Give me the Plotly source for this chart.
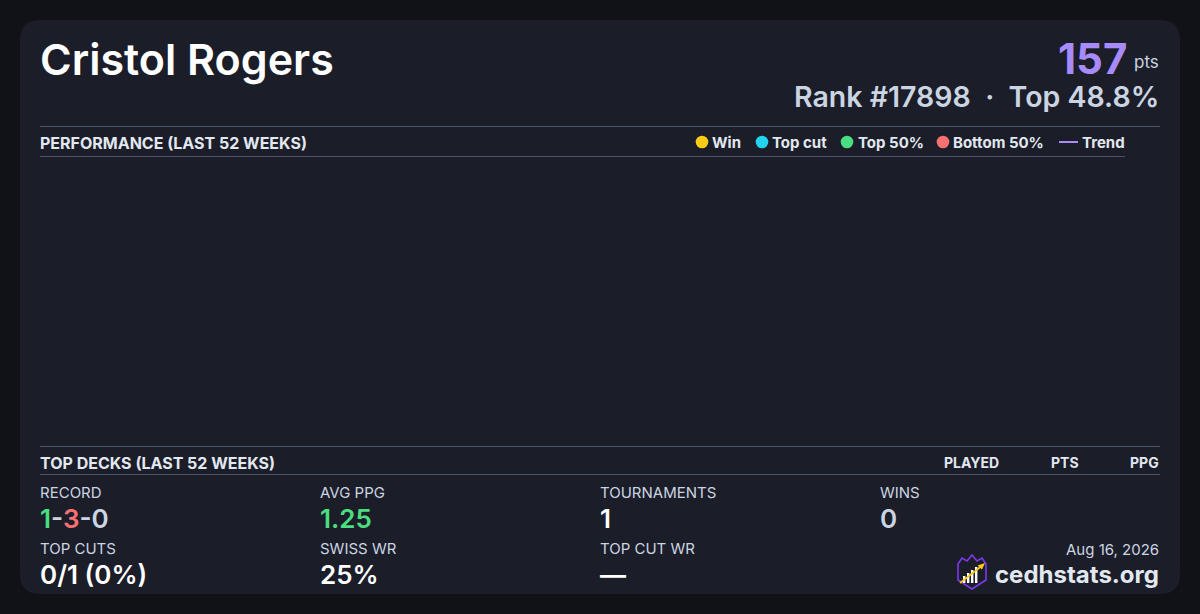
import plotly.graph_objects as go

# header
player_name = "Cristol Rogers"
total_points = 157
rank = 17898
top_percent = 48.8
card_date = "Aug 16, 2026"
site_name = "cedhstats.org"

# performance chart (last 52 weeks) - nothing recorded in the window
legend_labels = ["Win", "Top cut", "Top 50%", "Bottom 50%", "Trend"]
legend_colors = ["#facc15", "#22d3ee", "#4ade80", "#f87171", "#a78bfa"]
week_dates = []
week_points = []
week_result = []
trend_points = []

# top decks table header
deck_columns = ["PLAYED", "PTS", "PPG"]

# stats
record_w, record_l, record_d = 1, 3, 0
avg_ppg = 1.25
tournaments = 1
wins = 0
top_cuts, top_cut_chances = 0, 1
swiss_wr = 25
top_cut_wr = None

BG = "#111217"
CARD = "#1b1d29"
RULE = "#4a5669"
LIGHT = "#cbd5e1"
HEAD = "#e2e8f0"
FONT = "Inter"

fig = go.Figure()

# performance traces (empty), on their own axes inside the chart region
result_order = legend_labels[:4]
for lab, col in zip(result_order, legend_colors[:4]):
    xs = [d for d, r in zip(week_dates, week_result) if r == lab]
    ys = [p for p, r in zip(week_points, week_result) if r == lab]
    fig.add_trace(go.Scatter(x=xs, y=ys, mode="markers", name=lab,
                             marker=dict(color=col, size=10),
                             xaxis="x2", yaxis="y2", showlegend=False))
fig.add_trace(go.Scatter(x=week_dates, y=trend_points, mode="lines", name="Trend",
                         line=dict(color=legend_colors[4], width=2),
                         xaxis="x2", yaxis="y2", showlegend=False))

shapes = []
annotations = []


def txt(x, y, s, size, color, weight=400, xanchor="left", height=None):
    if xanchor == "left":
        x -= 1
    annotations.append(dict(x=x, y=y, xref="x", yref="y", text=s, showarrow=False,
                            xanchor=xanchor, yanchor="middle", borderpad=0, height=height,
                            font=dict(family=FONT, size=size, color=color, weight=weight)))


def hline(x0, x1, y):
    shapes.append(dict(type="line", xref="x", yref="y", x0=x0, x1=x1, y0=y, y1=y,
                       line=dict(color=RULE, width=1), layer="below"))


# card with rounded corners
r = 20
x0, x1, y0, y1 = 20, 1180, 20, 594
card_path = (f"M{x0+r},{y0} L{x1-r},{y0} Q{x1},{y0} {x1},{y0+r} L{x1},{y1-r} "
             f"Q{x1},{y1} {x1-r},{y1} L{x0+r},{y1} Q{x0},{y1} {x0},{y1-r} "
             f"L{x0},{y0+r} Q{x0},{y0} {x0+r},{y0} Z")
shapes.append(dict(type="path", xref="x", yref="y", path=card_path,
                   fillcolor=CARD, line=dict(width=0), layer="below"))

# header
txt(40, 58.5, player_name, 43, "#ffffff", 600)
txt(1128, 58, str(total_points), 42, "#a78bfa", 700, "right", height=40)
txt(1160, 62, "pts", 17, LIGHT, 400, "right")
txt(1160, 96.5, f"Rank #{rank}  ·  Top {top_percent}%", 28.5, LIGHT, 600, "right", height=31)

# performance section
hline(40, 1160, 126.5)
txt(40, 142.5, "PERFORMANCE (LAST 52 WEEKS)", 16, HEAD, 700)
hline(40, 1125, 156.5)

legend_dot_x = [702, 762, 847, 943]
legend_text_x = [712, 772, 858, 953, 1082]
for i, lab in enumerate(legend_labels):
    if i < 4:
        cx = legend_dot_x[i]
        shapes.append(dict(type="circle", xref="x", yref="y", x0=cx - 6.3, x1=cx + 6.3,
                           y0=142 - 6.3, y1=142 + 6.3, fillcolor=legend_colors[i],
                           line=dict(width=0)))
    else:
        shapes.append(dict(type="line", xref="x", yref="y", x0=1059, x1=1078, y0=142, y1=142,
                           line=dict(color=legend_colors[i], width=2)))
    txt(legend_text_x[i], 142.5, lab, 15, HEAD, 700)

# top decks section
hline(40, 1160, 446.5)
txt(40, 462.5, "TOP DECKS (LAST 52 WEEKS)", 16, HEAD, 700)
for col_name, xr in zip(deck_columns, [1000, 1080, 1160]):
    txt(xr, 462.5, col_name, 14, HEAD, 700, "right")
hline(40, 1160, 474.5)

# stats grid
record_txt = (f"<span style='color:#4ade80'>{record_w}</span>-"
              f"<span style='color:#f87171'>{record_l}</span>-{record_d}")
top_cut_pct = round(100 * top_cuts / top_cut_chances) if top_cut_chances else 0
stats = [
    (40, 492, 518, "RECORD", record_txt, LIGHT),
    (320, 492, 518, "AVG PPG", f"{avg_ppg:.2f}", "#4ade80"),
    (600, 492, 518, "TOURNAMENTS", str(tournaments), "#ffffff"),
    (880, 492, 518, "WINS", str(wins), LIGHT),
    (40, 548, 574, "TOP CUTS", f"{top_cuts}/{top_cut_chances} ({top_cut_pct}%)", "#ffffff"),
    (320, 548, 574, "SWISS WR", f"{swiss_wr}%", "#ffffff"),
    (600, 548, 574, "TOP CUT WR", "—" if top_cut_wr is None else f"{top_cut_wr}%", "#ffffff"),
]
for sx, ly, vy, lab, val, vcol in stats:
    txt(sx, ly, lab, 15, LIGHT, 400)
    txt(sx, vy, val, 26, vcol, 600)

# footer: date, logo, site
txt(1160, 549.5, card_date, 15, LIGHT, 400, "right")
txt(1160, 574, f"{site_name}", 24, HEAD, 700, "right")

shield = ("M958,564 L962,558 L967,561 L972,555 L977,561 L982,558 L986,564 "
          "L986,580 L972,589 L958,580 Z")
shapes.append(dict(type="path", xref="x", yref="y", path=shield, fillcolor=CARD,
                   line=dict(color="#7c3aed", width=1.6)))
for bx, top in zip([963, 967, 971, 975], [576, 573, 570, 567]):
    shapes.append(dict(type="rect", xref="x", yref="y", x0=bx, x1=bx + 2.4, y0=top, y1=583,
                       fillcolor="#ffffff", line=dict(width=0)))
shapes.append(dict(type="line", xref="x", yref="y", x0=960, y0=583, x1=981, y1=566.5,
                   line=dict(color="#facc15", width=1.6)))
shapes.append(dict(type="path", xref="x", yref="y", path="M985,563 L977.5,565.5 L982,569.5 Z",
                   fillcolor="#facc15", line=dict(width=0)))

fig.update_layout(
    width=1200, height=614,
    margin=dict(l=0, r=0, t=0, b=0),
    paper_bgcolor=BG, plot_bgcolor="rgba(0,0,0,0)",
    xaxis=dict(range=[0, 1200], domain=[0, 1], visible=False, fixedrange=True),
    yaxis=dict(range=[614, 0], domain=[0, 1], visible=False, fixedrange=True),
    xaxis2=dict(domain=[40 / 1200, 1160 / 1200], anchor="y2", visible=False),
    yaxis2=dict(domain=[1 - 440 / 614, 1 - 162 / 614], anchor="x2", visible=False),
    shapes=shapes,
    annotations=annotations,
    showlegend=False,
)

fig.write_html("out.html", config={"displayModeBar": False},
               post_script="document.body.style.margin='0';document.body.style.background='#111217';")
